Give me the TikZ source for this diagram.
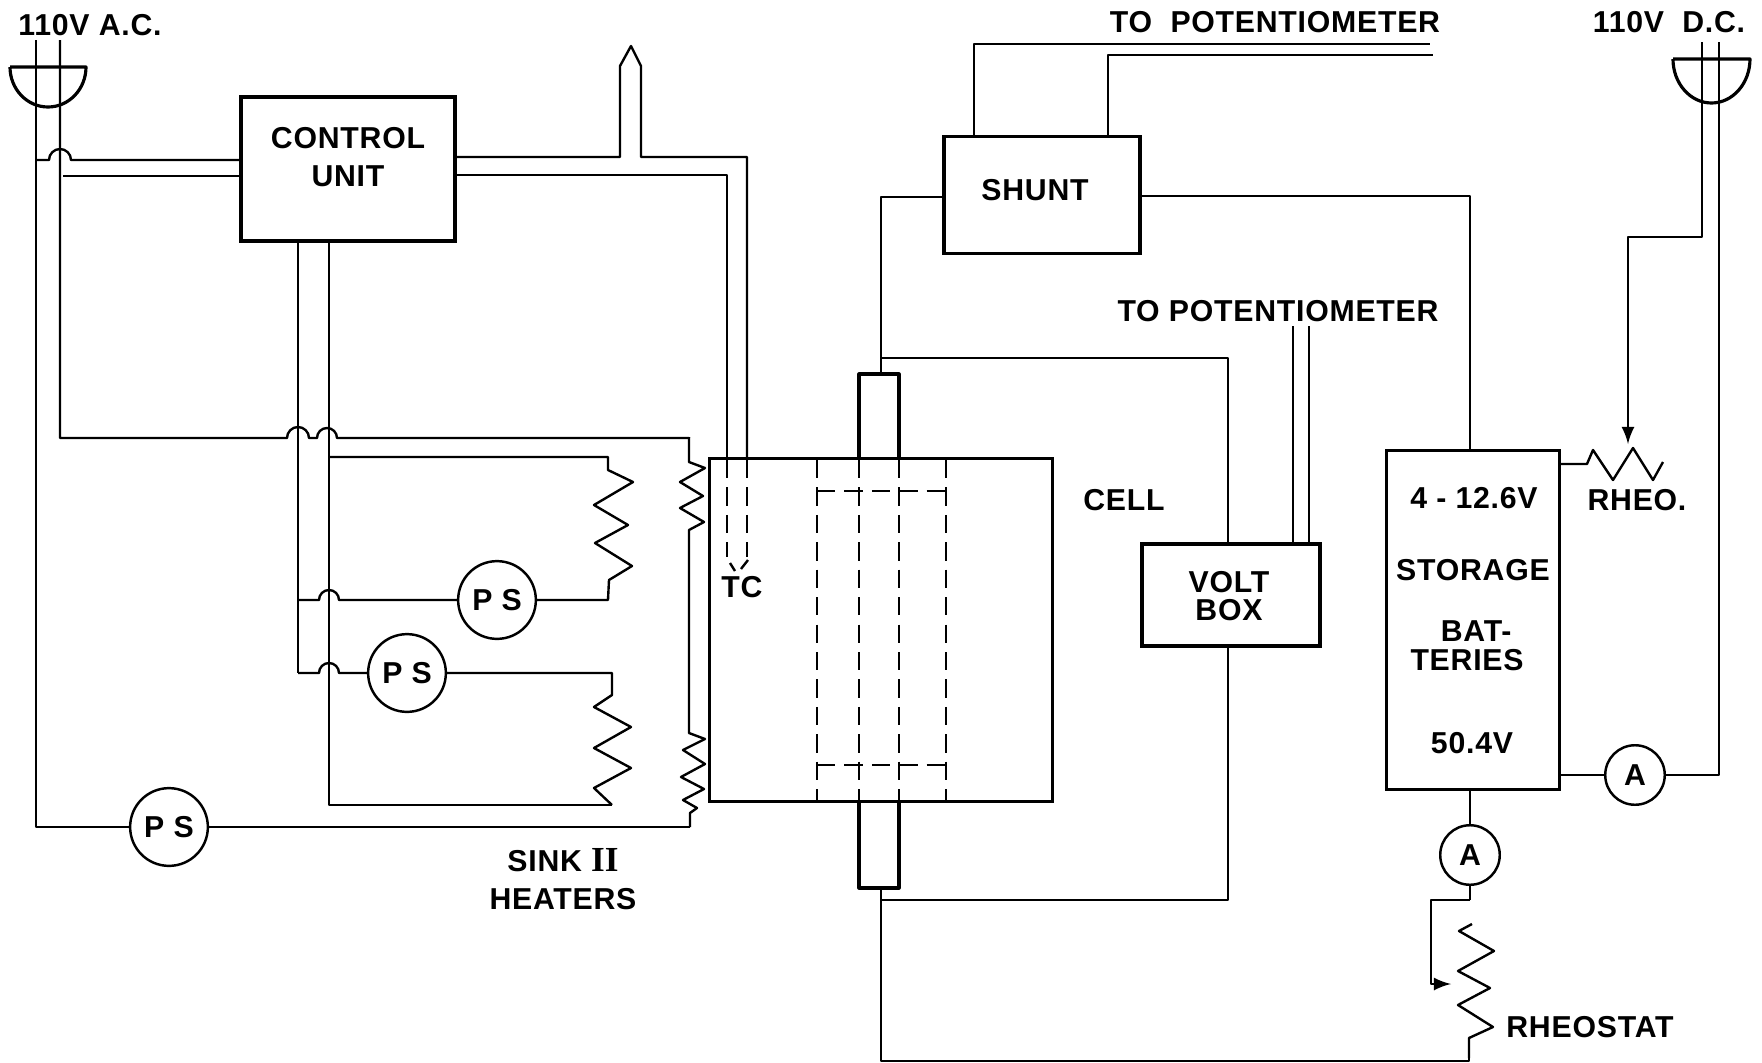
\documentclass[tikz,border=0pt]{standalone}
\usepackage{fontspec}
\setmainfont[LetterSpace=2.5]{Liberation Sans}
\newfontfamily\romanfont{Liberation Serif}
\usepackage{tikz}
\usetikzlibrary{arrows,positioning}

\begin{document}
\begin{tikzpicture}[x=0.01cm,y=-0.01cm]
	\tikzstyle{Wire}	= [line width=0.68pt, black, line join=round]
	\tikzstyle{Heavy}	= [line width=0.9pt, black, line join=round]
	\tikzstyle{Hidden}	= [line width=0.8pt, black, dash pattern=on 5.2pt off 2.6pt]
	\tikzstyle{Box}		= [rectangle, draw, line width=0.9pt, inner sep=0pt, align=center]
	\tikzstyle{Meter}	= [circle, draw, line width=0.7pt, fill=white, inner sep=0pt]
	\tikzstyle{PS}		= [Meter, minimum size=22.2mm*0.35, font=\fontsize{8.6}{9}\selectfont\bfseries]
	\tikzstyle{AM}		= [Meter, minimum size=17mm*0.35, font=\fontsize{8.6}{9}\selectfont\bfseries]
	\tikzstyle{Label}	= [inner sep=0pt, align=center, font=\fontsize{8.6}{9.6}\selectfont\bfseries]
	\def\Hop{arc[start angle=180, end angle=360, radius=11]}
	\def\Dip{arc[start angle=180, end angle=360, radius=10]}

	\useasboundingbox (0,0) rectangle (1762,1063);

	% boxes
	\node (cu) at (348,169) [Box][minimum width=214*0.1mm, minimum height=144*0.1mm] {};
	\node (sh) at (1042,195) [Box][minimum width=196*0.1mm, minimum height=117*0.1mm] {};
	\node (vb) at (1231,595) [Box][minimum width=178*0.1mm, minimum height=102*0.1mm] {};
	\node (sb) at (1473,620) [Box][minimum width=173*0.1mm, minimum height=338*0.1mm] {};
	\node (ce) at (881,630) [Box][minimum width=342*0.1mm, minimum height=343*0.1mm] {};

	% meters
	\node (ps1) at (497,600) [PS] {P S};
	\node (ps2) at (407,673) [PS] {P S};
	\node (ps3) at (169,827) [PS] {P S};
	\node (am1) at (1635,775) [AM] {A};
	\node (am2) at (1470,855) [AM] {A};

	% junctions
	\coordinate (acA) at (36,40);
	\coordinate (acB) at (60,40);
	\coordinate (dcA) at (1702,42);
	\coordinate (dcB) at (1719,42);
	\coordinate (bus1) at (298,241);
	\coordinate (bus2) at (329,241);
	\coordinate (rodT) at (881,374);
	\coordinate (rodB) at (881,888);
	\coordinate (h1T) at (608,457);
	\coordinate (h1B) at (608,600);
	\coordinate (h2T) at (612,673);
	\coordinate (h2B) at (612,805);
	\coordinate (s1T) at (689,437);
	\coordinate (s2B) at (690,827);
	\coordinate (vbT) at (1228,544);
	\coordinate (vbB) at (1228,646);
	\coordinate (sbT) at (1470,451);
	\coordinate (rhT) at (1470,900);
	\coordinate (rhB) at (1469,1058);

	% plugs
	\draw[Heavy] (10,67) -- (86,67) arc[start angle=0, end angle=180, x radius=38, y radius=40];
	\draw[Heavy] (1673,59) -- (1750,59) arc[start angle=0, end angle=180, x radius=38.5, y radius=44];

	% a.c. line
	\draw[Wire] (acA) -- (acA |- ps3) -- (ps3);
	\draw[Wire] (acB) -- (60,438) -- (287,438) \Hop -- ++(8,0) \Dip -- (s1T |- 0,438) -- (s1T);
	\draw[Wire] (acA |- 0,160) -- (49,160) \Hop -- (cu.west |- 0,160);
	\draw[Wire] (63,176) -- (cu.west |- 0,176);

	% control unit
	\draw[Wire] (bus1) -- (bus1 |- ps2);
	\draw[Wire] (bus2) -- (h2B -| bus2) -- (h2B);
	\draw[Wire] (cu.east |- 0,157) -- (620,157) -- (620,66) -- (631,46) -- (641,66) -- (641,157) -- (747,157) -- (747,460);
	\draw[Wire] (cu.east |- 0,175) -- (727,175) -- (727,460);
	\draw[Hidden] (727,460) -- (727,557);
	\draw[Hidden] (747,460) -- (747,557);
	\draw[Wire] (730,563) -- (735,571);
	\draw[Wire] (748,560) -- (741,569);

	% heaters
	\draw[Wire] (329,457) -- (h1T) -- (608,470) -- (633,482) -- (594,505) -- (628,525) -- (595,543) -- (632,566) -- (609,580) -- (h1B) -- (ps1);
	\draw[Wire] (298,600) -- (319,600) \Dip -- (ps1);
	\draw[Wire] (298,673) -- (319,673) \Dip -- (ps2);
	\draw[Wire] (ps2) -- (h2T) -- (612,695) -- (594,707) -- (631,727) -- (594,748) -- (631,768) -- (594,788) -- (h2B);
	\draw[Wire] (s1T) -- (689,462) -- (705,468) -- (680,482) -- (703,496) -- (680,508) -- (704,522) -- (689,530) -- (689,733) -- (705,739) -- (683,750) -- (705,764) -- (681,777) -- (704,789) -- (683,800) -- (697,808) -- (690,813) -- (s2B);
	\draw[Wire] (ps3) -- (s2B);

	% cell
	\draw[Heavy] (859,458) -- (859,374) -- (899,374) -- (899,458);
	\draw[Heavy] (859,802) -- (859,888) -- (899,888) -- (899,802);
	\foreach \x in {817,859,899,946}
		\draw[Hidden] (\x,460) -- (\x,802);
	\foreach \y in {491,765}
		\draw[Hidden] (817,\y) -- (946,\y);

	% right side wiring
	\draw[Wire] (sh.west |- 0,197) -- (rodT |- 0,197) -- (rodT);
	\draw[Wire] (881,358) -- (vbT |- 0,358) -- (vbT);
	\draw[Wire] (vbB) -- (vbB |- 0,900) -- (881,900);
	\draw[Wire] (rodB) -- (881,1061) -- (rhB |- 0,1061) -- (rhB);
	\draw[Wire] (sh.east |- 0,196) -- (sbT |- 0,196) -- (sbT);
	\draw[Wire] (974,136) -- (974,44) -- (1430,44);
	\draw[Wire] (1108,136) -- (1108,55) -- (1433,55);
	\draw[Wire] (1293,326) -- (1293,544);
	\draw[Wire] (1309,326) -- (1309,544);

	% batteries
	\draw[Wire] (sb.east |- 0,464) -- (1587,464) -- (1593,450) -- (1613,480) -- (1633,448) -- (1653,480) -- (1663,462);
	\draw[Wire,-latex] (dcA) -- (1702,237) -- (1628,237) -- (1628,444);
	\draw[Wire] (sb.east |- am1) -- (am1);
	\draw[Wire] (am1) -- (dcB |- am1) -- (dcB);
	\draw[Wire] (sb.south -| am2) -- (am2);
	\draw[Wire] (am2) -- (rhT);
	\draw[Wire,-latex] (rhT) -- (1431,900) -- (1431,984) -- (1451,984);
	\draw[Wire] (1472,924) -- (1459,931) -- (1494,951) -- (1458,971) -- (1490,988) -- (1458,1005) -- (1493,1027) -- (1469,1038) -- (rhB);

	% labels
	\node (lac) at (90,25) [Label] {110V\ A.C.};
	\node (ldc) at (1669,22) [Label] {110V\ \ D.C.};
	\node (lcu) at (348,157) [Label] {CONTROL\\[1pt]UNIT};
	\node (lsh) at (1035,190) [Label] {SHUNT};
	\node (lp1) at (1275,22) [Label] {TO\ \ POTENTIOMETER};
	\node (lp2) at (1278,311) [Label] {TO POTENTIOMETER};
	\node (lcl) at (1124,500) [Label] {CELL};
	\node (lvb) at (1229,596) [Label] {VOLT\\[-1.4pt]BOX};
	\node (ltc) at (742,587) [Label] {TC};
	\node (lsk) at (563,879) [Label] {SINK {\romanfont\fontsize{10}{9.6}\selectfont II}\\[1pt]HEATERS};
	\node (lb1) at (1474,498) [Label] {4 - 12.6V};
	\node (lb2) at (1473,570) [Label] {STORAGE};
	\node (lb3) at (1467,646) [Label] {\ \ BAT-\\[-1.4pt]TERIES};
	\node (lb4) at (1472,743) [Label] {50.4V};
	\node (lrh) at (1637,500) [Label] {RHEO.};
	\node (lrs) at (1590,1027) [Label] {RHEOSTAT};

\end{tikzpicture}
\end{document}
